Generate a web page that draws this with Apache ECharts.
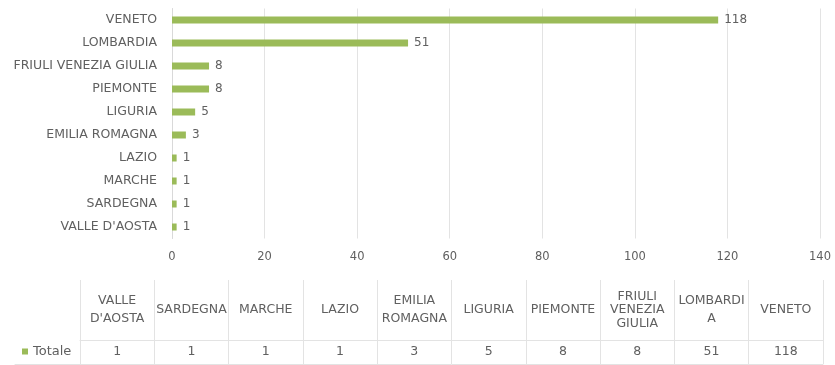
<!DOCTYPE html>
<html>
<head>
<meta charset="utf-8">
<script src="https://cdn.jsdelivr.net/npm/echarts@6/dist/echarts.min.js"></script>
<style>
  html, body { margin: 0; padding: 0; background: #ffffff; }
  #chart { width: 835px; height: 365px; }
</style>
</head>
<body>
<div id="chart"></div>
<script>
// Regions ordered from smallest to largest total (bottom to top on the bar chart)
const categories = ['VALLE D\'AOSTA', 'SARDEGNA', 'MARCHE', 'LAZIO', 'EMILIA ROMAGNA',
  'LIGURIA', 'PIEMONTE', 'FRIULI VENEZIA GIULIA', 'LOMBARDIA', 'VENETO'];
const totals = [1, 1, 1, 1, 3, 5, 8, 8, 51, 118];
// Header cells of the data table, wrapped as they appear in the table
const tableHeaders = ['VALLE\nD\'AOSTA', 'SARDEGNA', 'MARCHE', 'LAZIO', 'EMILIA\nROMAGNA',
  'LIGURIA', 'PIEMONTE', 'FRIULI\nVENEZIA\nGIULIA', 'LOMBARDI\nA', 'VENETO'];
const seriesName = 'Totale';
const valueTicks = { min: 0, max: 140, interval: 20 };

const FONT = '"DejaVu Sans", sans-serif';
const TEXT = '#606060';
const GRID_LINE = '#e3e3e3';
const BAR = '#9bbb59';
const LABEL_SIZE = 12.5;

const chart = echarts.init(document.getElementById('chart'), null, { renderer: 'canvas' });

// A table row: category axis whose split lines form the cell borders
const tableAxis = (gridIndex, margin, formatter, rich) => ({
  type: 'category',
  gridIndex,
  position: 'bottom',
  data: categories,
  boundaryGap: true,
  axisLine: { show: true, lineStyle: { color: GRID_LINE } },
  axisTick: { show: false },
  splitLine: { show: true, lineStyle: { color: GRID_LINE } },
  axisLabel: {
    interval: 0,
    margin,
    verticalAlign: 'middle',
    color: TEXT,
    fontFamily: FONT,
    fontSize: LABEL_SIZE,
    lineHeight: 16,
    formatter,
    rich
  }
});

// Wrapped headers: two-line cells are spaced wider than three-line ones
const headerText = (v, i) => {
  const lines = tableHeaders[i].split('\n');
  const style = lines.length >= 3 ? 'three' : (lines.length === 2 ? 'two' : 'one');
  return lines.map(l => '{' + style + '|' + l + '}').join('\n');
};
const headerRich = {
  one: { color: TEXT, fontFamily: FONT, fontSize: LABEL_SIZE, lineHeight: 16 },
  two: { color: TEXT, fontFamily: FONT, fontSize: LABEL_SIZE, lineHeight: 18 },
  three: { color: TEXT, fontFamily: FONT, fontSize: LABEL_SIZE, lineHeight: 13.5 }
};

chart.setOption({
  animation: false,
  textStyle: { fontFamily: FONT },
  legend: {
    data: [seriesName],
    left: 17,
    top: 340,
    icon: 'rect',
    itemWidth: 6,
    itemHeight: 6,
    itemGap: 4,
    textStyle: { color: TEXT, fontSize: 13, fontFamily: FONT },
    selectedMode: false
  },
  grid: [
    { left: 172, right: 15, top: 8.5, height: 230 },
    { left: 80, right: 12, top: 280, height: 60 },
    { left: 80, right: 12, top: 340, height: 24 },
    { left: 15, width: 65, top: 340, height: 24 }
  ],
  xAxis: [
    {
      type: 'value',
      gridIndex: 0,
      min: valueTicks.min,
      max: valueTicks.max,
      interval: valueTicks.interval,
      axisLine: { show: false },
      axisTick: { show: false },
      splitLine: { show: true, lineStyle: { color: GRID_LINE } },
      axisLabel: { color: TEXT, fontSize: 11.5, fontFamily: FONT, margin: 13 }
    },
    tableAxis(1, -30, headerText, headerRich),
    tableAxis(2, -12, (v, i) => String(totals[i])),
    {
      // bottom border under the legend-key cell
      type: 'category',
      gridIndex: 3,
      data: [''],
      axisLine: { show: true, lineStyle: { color: GRID_LINE } },
      axisTick: { show: false },
      axisLabel: { show: false },
      splitLine: { show: false }
    }
  ],
  yAxis: [
    {
      type: 'category',
      gridIndex: 0,
      data: categories,
      axisLine: { show: true, lineStyle: { color: '#d9d9d9' } },
      axisTick: { show: false },
      axisLabel: { color: TEXT, fontSize: LABEL_SIZE, fontFamily: FONT, margin: 15, interval: 0 }
    },
    { type: 'value', gridIndex: 1, show: false },
    { type: 'value', gridIndex: 2, show: false },
    { type: 'value', gridIndex: 3, show: false }
  ],
  series: [
    {
      name: seriesName,
      type: 'bar',
      xAxisIndex: 0,
      yAxisIndex: 0,
      data: totals,
      barWidth: 7,
      itemStyle: { color: BAR },
      label: {
        show: true,
        position: 'right',
        distance: 6,
        color: TEXT,
        fontSize: 12,
        fontFamily: FONT
      }
    }
  ]
});
</script>
</body>
</html>
